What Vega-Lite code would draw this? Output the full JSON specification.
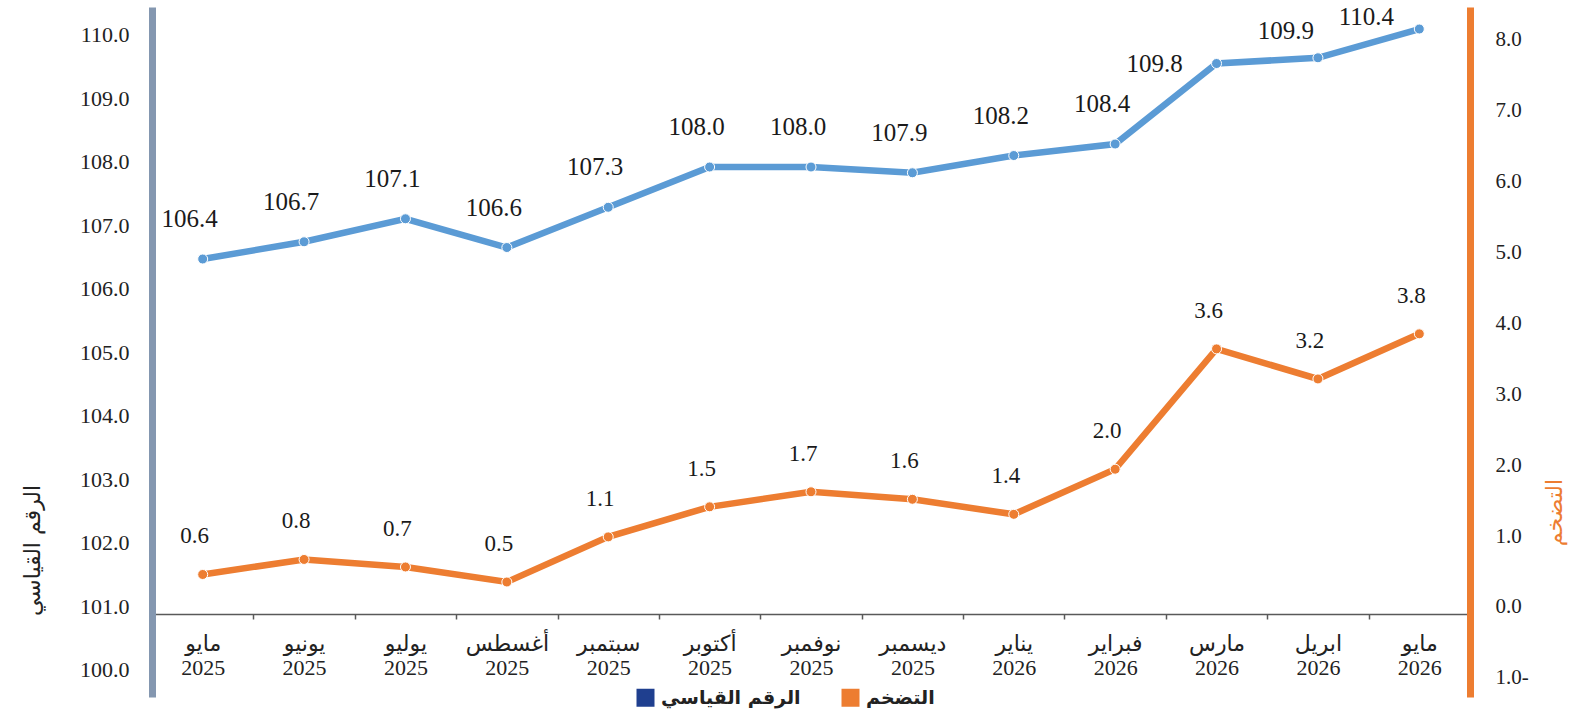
{
  "$schema": "https://vega.github.io/schema/vega-lite/v6.json",
  "width": 1318,
  "height": 690,
  "autosize": {"type": "none"},
  "padding": {"left": 152, "top": 7, "right": 101, "bottom": 16},
  "background": "white",
  "config": {"view": {"stroke": null}},
  "datasets": {
    "main": [
      {"month": "مايو|2025", "index": 106.4, "inflation": 0.6},
      {"month": "يونيو|2025", "index": 106.7, "inflation": 0.8},
      {"month": "يوليو|2025", "index": 107.1, "inflation": 0.7},
      {"month": "أغسطس|2025", "index": 106.6, "inflation": 0.5},
      {"month": "سبتمبر|2025", "index": 107.3, "inflation": 1.1},
      {"month": "أكتوبر|2025", "index": 108.0, "inflation": 1.5},
      {"month": "نوفمبر|2025", "index": 108.0, "inflation": 1.7},
      {"month": "ديسمبر|2025", "index": 107.9, "inflation": 1.6},
      {"month": "يناير|2026", "index": 108.2, "inflation": 1.4},
      {"month": "فبراير|2026", "index": 108.4, "inflation": 2.0},
      {"month": "مارس|2026", "index": 109.8, "inflation": 3.6},
      {"month": "ابريل|2026", "index": 109.9, "inflation": 3.2},
      {"month": "مايو|2026", "index": 110.4, "inflation": 3.8}
    ],
    "legend": [
      {"series": "الرقم القياسي"},
      {"series": "التضخم"}
    ]
  },
  "data": {"name": "main"},
  "layer": [
    {
      "mark": {"type": "rule", "opacity": 0},
      "encoding": {
        "y": {
          "datum": 105, "type": "quantitative",
          "scale": {"domain": [99.569, 110.434], "nice": false, "zero": false},
          "axis": {
            "orient": "left", "values": [100, 101, 102, 103, 104, 105, 106, 107, 108, 109, 110],
            "format": ".1f", "domainColor": "#8497B0", "domainWidth": 7, "ticks": false, "tickSize": 0,
            "grid": false, "labelPadding": 23, "labelFont": "Liberation Serif", "labelFontSize": 22,
            "labelColor": "#222222", "labelFlush": false, "labelOverlap": false,
            "title": "الرقم القياسي", "titleFont": "DejaVu Sans", "titleFontSize": 22, "titleFontWeight": "normal",
            "titleColor": "#222222", "titleAngle": -90, "titleX": -120, "titleY": 543,
            "titleAlign": "center", "titleBaseline": "middle"
          }
        }
      }
    },
    {
      "mark": {"type": "rule", "opacity": 0},
      "encoding": {
        "y": {
          "datum": 0, "type": "quantitative",
          "scale": {"domain": [-1.271, 8.463], "nice": false, "zero": false},
          "axis": {
            "orient": "right", "values": [-1, 0, 1, 2, 3, 4, 5, 6, 7, 8],
            "labelExpr": "datum.value < 0 ? format(-datum.value, '.1f') + '-' : format(datum.value, '.1f')",
            "domainColor": "#ED7D31", "domainWidth": 7, "ticks": false, "tickSize": 0,
            "grid": false, "labelPadding": 25, "labelFont": "Liberation Serif", "labelFontSize": 21,
            "labelColor": "#222222", "labelFlush": false, "labelOverlap": false,
            "title": "التضخم", "titleFont": "DejaVu Sans", "titleFontSize": 22, "titleFontWeight": "normal",
            "titleColor": "#ED7D31", "titleAngle": -90, "titleX": 84, "titleY": 505,
            "titleAlign": "center", "titleBaseline": "middle"
          }
        }
      }
    },
    {
      "mark": {"type": "line", "color": "#5B9BD5", "strokeWidth": 6.5,
        "point": {"filled": true, "size": 100, "color": "#5B9BD5", "stroke": "white", "strokeWidth": 1}},
      "encoding": {
        "x": {"field": "month", "type": "ordinal", "sort": null, "bandPosition": 0.5,
          "scale": {"type": "band", "paddingInner": 0, "paddingOuter": 0},
          "axis": {"title": null, "orient": "bottom", "offset": -83, "domainColor": "#595959", "domainWidth": 1.5,
            "tickBand": "extent", "tickColor": "#595959", "tickSize": 5, "tickWidth": 1.5, "labelAngle": 0,
            "labelExpr": "split(datum.label, '|')", "labelFont": "Liberation Serif, DejaVu Sans", "labelFontSize": 22,
            "labelLineHeight": 24, "labelPadding": 14, "labelColor": "#222222", "grid": false, "labelOverlap": false, "labelBound": false}},
        "y": {"field": "index", "type": "quantitative", "scale": {"domain": [98.783, 110.783], "nice": false, "zero": false}, "axis": null}
      }
    },
    {
      "transform": [{"filter": "datum.index < 109"}],
      "mark": {"type": "text", "font": "Liberation Serif", "fontSize": 25, "color": "#1a1a1a", "dx": -13, "dy": -40},
      "encoding": {
        "x": {"field": "month", "type": "ordinal", "sort": null, "bandPosition": 0.5,
          "scale": {"type": "band", "paddingInner": 0, "paddingOuter": 0},
          "axis": {"title": null, "orient": "bottom", "offset": -83, "domainColor": "#595959", "domainWidth": 1.5,
            "tickBand": "extent", "tickColor": "#595959", "tickSize": 5, "tickWidth": 1.5, "labelAngle": 0,
            "labelExpr": "split(datum.label, '|')", "labelFont": "Liberation Serif, DejaVu Sans", "labelFontSize": 22,
            "labelLineHeight": 24, "labelPadding": 14, "labelColor": "#222222", "grid": false, "labelOverlap": false, "labelBound": false}},
        "y": {"field": "index", "type": "quantitative", "scale": {"domain": [98.783, 110.783], "nice": false, "zero": false}, "axis": null},
        "text": {"field": "index", "type": "quantitative", "format": ".1f"}
      }
    },
    {
      "transform": [{"filter": "datum.index == 109.8"}],
      "mark": {"type": "text", "font": "Liberation Serif", "fontSize": 25, "color": "#1a1a1a", "dx": -62, "dy": 0},
      "encoding": {
        "x": {"field": "month", "type": "ordinal", "sort": null, "bandPosition": 0.5,
          "scale": {"type": "band", "paddingInner": 0, "paddingOuter": 0},
          "axis": {"title": null, "orient": "bottom", "offset": -83, "domainColor": "#595959", "domainWidth": 1.5,
            "tickBand": "extent", "tickColor": "#595959", "tickSize": 5, "tickWidth": 1.5, "labelAngle": 0,
            "labelExpr": "split(datum.label, '|')", "labelFont": "Liberation Serif, DejaVu Sans", "labelFontSize": 22,
            "labelLineHeight": 24, "labelPadding": 14, "labelColor": "#222222", "grid": false, "labelOverlap": false, "labelBound": false}},
        "y": {"field": "index", "type": "quantitative", "scale": {"domain": [98.783, 110.783], "nice": false, "zero": false}, "axis": null},
        "text": {"field": "index", "type": "quantitative", "format": ".1f"}
      }
    },
    {
      "transform": [{"filter": "datum.index == 109.9"}],
      "mark": {"type": "text", "font": "Liberation Serif", "fontSize": 25, "color": "#1a1a1a", "dx": -32, "dy": -27},
      "encoding": {
        "x": {"field": "month", "type": "ordinal", "sort": null, "bandPosition": 0.5,
          "scale": {"type": "band", "paddingInner": 0, "paddingOuter": 0},
          "axis": {"title": null, "orient": "bottom", "offset": -83, "domainColor": "#595959", "domainWidth": 1.5,
            "tickBand": "extent", "tickColor": "#595959", "tickSize": 5, "tickWidth": 1.5, "labelAngle": 0,
            "labelExpr": "split(datum.label, '|')", "labelFont": "Liberation Serif, DejaVu Sans", "labelFontSize": 22,
            "labelLineHeight": 24, "labelPadding": 14, "labelColor": "#222222", "grid": false, "labelOverlap": false, "labelBound": false}},
        "y": {"field": "index", "type": "quantitative", "scale": {"domain": [98.783, 110.783], "nice": false, "zero": false}, "axis": null},
        "text": {"field": "index", "type": "quantitative", "format": ".1f"}
      }
    },
    {
      "transform": [{"filter": "datum.index == 110.4"}],
      "mark": {"type": "text", "font": "Liberation Serif", "fontSize": 25, "color": "#1a1a1a", "dx": -53, "dy": -12},
      "encoding": {
        "x": {"field": "month", "type": "ordinal", "sort": null, "bandPosition": 0.5,
          "scale": {"type": "band", "paddingInner": 0, "paddingOuter": 0},
          "axis": {"title": null, "orient": "bottom", "offset": -83, "domainColor": "#595959", "domainWidth": 1.5,
            "tickBand": "extent", "tickColor": "#595959", "tickSize": 5, "tickWidth": 1.5, "labelAngle": 0,
            "labelExpr": "split(datum.label, '|')", "labelFont": "Liberation Serif, DejaVu Sans", "labelFontSize": 22,
            "labelLineHeight": 24, "labelPadding": 14, "labelColor": "#222222", "grid": false, "labelOverlap": false, "labelBound": false}},
        "y": {"field": "index", "type": "quantitative", "scale": {"domain": [98.783, 110.783], "nice": false, "zero": false}, "axis": null},
        "text": {"field": "index", "type": "quantitative", "format": ".1f"}
      }
    },
    {
      "mark": {"type": "line", "color": "#ED7D31", "strokeWidth": 6.5,
        "point": {"filled": true, "size": 100, "color": "#ED7D31", "stroke": "white", "strokeWidth": 1}},
      "encoding": {
        "x": {"field": "month", "type": "ordinal", "sort": null, "bandPosition": 0.5,
          "scale": {"type": "band", "paddingInner": 0, "paddingOuter": 0},
          "axis": {"title": null, "orient": "bottom", "offset": -83, "domainColor": "#595959", "domainWidth": 1.5,
            "tickBand": "extent", "tickColor": "#595959", "tickSize": 5, "tickWidth": 1.5, "labelAngle": 0,
            "labelExpr": "split(datum.label, '|')", "labelFont": "Liberation Serif, DejaVu Sans", "labelFontSize": 22,
            "labelLineHeight": 24, "labelPadding": 14, "labelColor": "#222222", "grid": false, "labelOverlap": false, "labelBound": false}},
        "y": {"field": "inflation", "type": "quantitative", "scale": {"domain": [-1.029, 8.146], "nice": false, "zero": false}, "axis": null}
      }
    },
    {
      "mark": {"type": "text", "font": "Liberation Serif", "fontSize": 23, "color": "#1a1a1a", "dx": -8, "dy": -38},
      "encoding": {
        "x": {"field": "month", "type": "ordinal", "sort": null, "bandPosition": 0.5,
          "scale": {"type": "band", "paddingInner": 0, "paddingOuter": 0},
          "axis": {"title": null, "orient": "bottom", "offset": -83, "domainColor": "#595959", "domainWidth": 1.5,
            "tickBand": "extent", "tickColor": "#595959", "tickSize": 5, "tickWidth": 1.5, "labelAngle": 0,
            "labelExpr": "split(datum.label, '|')", "labelFont": "Liberation Serif, DejaVu Sans", "labelFontSize": 22,
            "labelLineHeight": 24, "labelPadding": 14, "labelColor": "#222222", "grid": false, "labelOverlap": false, "labelBound": false}},
        "y": {"field": "inflation", "type": "quantitative", "scale": {"domain": [-1.029, 8.146], "nice": false, "zero": false}, "axis": null},
        "text": {"field": "inflation", "type": "quantitative", "format": ".1f"}
      }
    },
    {
      "data": {"name": "legend"},
      "mark": {"type": "square", "opacity": 0},
      "encoding": {
        "color": {
          "field": "series", "type": "nominal",
          "scale": {"domain": ["الرقم القياسي", "التضخم"], "range": ["#1F3F8F", "#ED7D31"]},
          "legend": {
            "title": null, "orient": "none", "legendX": 484, "legendY": 681, "direction": "horizontal",
            "symbolType": "square", "symbolSize": 324, "symbolStrokeWidth": 0, "symbolOpacity": 1,
            "labelFont": "DejaVu Sans", "labelFontSize": 19, "labelFontWeight": "bold", "labelColor": "#222222",
            "labelOffset": 6, "columnPadding": 40, "labelLimit": 300
          }
        }
      }
    }
  ],
  "resolve": {"scale": {"y": "independent"}}
}
